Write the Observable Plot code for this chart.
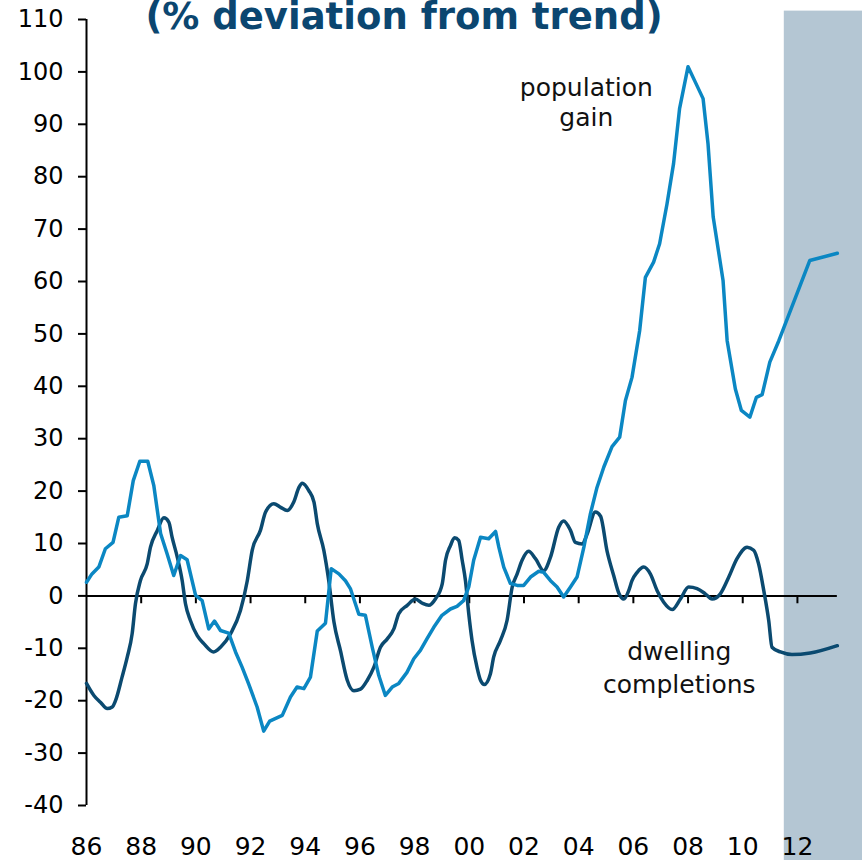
<!DOCTYPE html>
<html><head><meta charset="utf-8">
<script src="https://cdn.jsdelivr.net/npm/d3@7"></script>
<script src="https://cdn.jsdelivr.net/npm/@observablehq/plot@0.6"></script>
<style>
html,body{margin:0;padding:0;background:#fff;overflow:hidden}
#wrap{position:relative;width:862px;height:860px}
#title{position:absolute;left:404px;top:-2px;transform:translateX(-50%);font:bold 37px "DejaVu Sans";line-height:37px;color:#0b4670;white-space:nowrap;z-index:2}
</style></head><body>
<div id="wrap"><div id="title">(% deviation from trend)</div></div>
<script>
const titleText = "(% deviation from trend)";
const popLabel = "population\ngain";
const dwLabel = "dwelling\ncompletions";

const xTicks = [1986,1988,1990,1992,1994,1996,1998,2000,2002,2004,2006,2008,2010,2012];
const xTickLabels = ["86","88","90","92","94","96","98","00","02","04","06","08","10","12"];
const yTicks = [-40,-30,-20,-10,0,10,20,30,40,50,60,70,80,90,100,110];
const yTickLabels = ["-40","-30","-20","-10","0","10","20","30","40","50","60","70","80","90","100","110"];
const forecastPeriod = [2011.52, 2014.38];

const dwYears = [1986.00,1986.27,1986.51,1986.76,1986.94,1987.06,1987.30,1987.49,1987.67,1987.79,1987.97,1988.22,1988.34,1988.59,1988.83,1989.01,1989.13,1989.32,1989.50,1989.62,1989.80,1990.05,1990.29,1990.65,1990.90,1991.27,1991.63,1991.88,1992.06,1992.36,1992.55,1992.85,1993.10,1993.34,1993.58,1993.77,1993.89,1994.13,1994.32,1994.44,1994.68,1994.86,1995.05,1995.29,1995.53,1995.78,1996.02,1996.27,1996.51,1996.75,1997.00,1997.24,1997.42,1997.73,1998.03,1998.28,1998.52,1998.76,1999.01,1999.13,1999.31,1999.46,1999.61,1999.74,1999.86,1999.98,2000.10,2000.28,2000.41,2000.55,2000.77,2000.89,2001.14,2001.38,2001.57,2001.75,2001.93,2002.17,2002.42,2002.72,2002.97,2003.27,2003.45,2003.70,2003.88,2004.13,2004.31,2004.61,2004.80,2005.04,2005.28,2005.47,2005.65,2005.83,2005.95,2006.14,2006.38,2006.62,2006.87,2007.11,2007.42,2007.72,2008.02,2008.33,2008.63,2008.88,2009.18,2009.49,2009.79,2010.16,2010.40,2010.58,2010.77,2010.95,2011.07,2011.38,2011.80,2012.47,2013.46];
const dwValues = [-16.7,-19.0,-20.3,-21.5,-21.2,-20.0,-15.5,-11.7,-7.2,-1.5,2.9,6.1,9.3,12.5,14.9,14.1,11.2,7.4,2.9,-1.5,-4.7,-7.6,-9.1,-10.7,-9.8,-7.2,-2.8,2.9,8.7,12.5,16.0,17.6,16.9,16.3,17.9,20.7,21.5,20.1,17.9,13.8,8.7,2.9,-5.0,-10.5,-16.0,-18.1,-17.8,-16.1,-13.6,-9.8,-8.2,-6.3,-3.4,-1.8,-0.6,-1.4,-1.8,-0.6,2.3,6.8,9.6,11.1,10.6,6.8,2.9,-3.4,-8.5,-13.6,-16.1,-16.9,-14.9,-11.7,-8.5,-4.7,1.7,4.2,6.8,8.5,7.1,4.8,7.4,13.1,14.3,12.5,10.2,9.9,11.8,16.0,15.2,8.5,3.9,0.5,-0.6,1.0,2.9,4.5,5.5,4.2,1.0,-1.2,-2.6,-0.6,1.7,1.4,0.4,-0.6,0.4,3.6,7.1,9.3,8.7,6.1,1.0,-4.7,-9.8,-10.7,-11.2,-10.9,-9.5];

const popYears = [1986.00,1986.20,1986.45,1986.69,1986.97,1987.18,1987.49,1987.71,1987.95,1988.24,1988.46,1988.71,1988.95,1989.19,1989.44,1989.68,1989.99,1990.23,1990.47,1990.68,1990.90,1991.20,1991.45,1991.69,1991.93,1992.24,1992.48,1992.70,1993.16,1993.46,1993.70,1993.95,1994.19,1994.44,1994.74,1994.95,1995.23,1995.47,1995.65,1995.96,1996.20,1996.45,1996.69,1996.93,1997.18,1997.42,1997.72,1997.97,1998.21,1998.45,1998.70,1999.00,1999.31,1999.55,1999.79,1999.98,2000.16,2000.41,2000.71,2000.96,2001.08,2001.26,2001.50,2001.75,2001.99,2002.24,2002.54,2002.72,2002.97,2003.21,2003.45,2003.70,2003.94,2004.19,2004.43,2004.67,2004.92,2005.22,2005.50,2005.71,2005.95,2006.23,2006.44,2006.74,2006.96,2007.23,2007.47,2007.69,2008.00,2008.27,2008.55,2008.73,2008.92,2009.28,2009.43,2009.73,2009.95,2010.26,2010.50,2010.71,2010.99,2011.32,2012.45,2013.46];
const popValues = [2.6,4.2,5.5,9.0,10.2,15.0,15.3,22.0,25.7,25.7,21.1,11.9,8.0,3.9,7.7,6.9,0.1,-0.9,-6.3,-4.8,-6.6,-7.1,-10.7,-13.6,-16.8,-21.2,-25.8,-23.9,-22.8,-19.3,-17.4,-17.7,-15.5,-6.7,-5.2,5.2,4.2,2.9,1.4,-3.5,-3.7,-9.8,-15.2,-19.0,-17.4,-16.7,-14.6,-12.0,-10.4,-8.2,-6.0,-3.7,-2.5,-2.0,-0.9,1.7,6.8,11.2,10.9,12.3,9.3,5.5,2.4,2.0,2.0,3.6,4.7,4.5,2.9,1.7,-0.2,1.7,3.6,9.3,15.7,20.7,24.6,28.5,30.3,37.3,41.7,50.6,60.8,63.7,67.2,74.8,82.5,93.0,101.0,98.0,94.9,86.3,72.3,60.2,48.7,39.5,35.4,34.1,37.9,38.4,44.6,48.7,64.0,65.4];

const dwData = dwYears.map((x, i) => ({x, y: dwValues[i]}));
const popData = popYears.map((x, i) => ({x, y: popValues[i]}));
const lastYear = popYears[popYears.length - 1];

document.getElementById("title").textContent = titleText;

const chart = Plot.plot({
  width: 862, height: 860,
  marginLeft: 86, marginRight: 0, marginTop: 19, marginBottom: 55,
  style: {fontFamily: "DejaVu Sans", color: "#000", background: "#fff"},
  x: {domain: [1986, forecastPeriod[1]], label: null},
  y: {domain: [-40, 110], label: null},
  marks: [
    Plot.rect([{a: forecastPeriod[0], b: forecastPeriod[1]}], {x1: "a", x2: "b", y1: -52, y2: 111.6, fill: "#b4c6d3"}),
    Plot.ruleY([0], {x1: 1986, x2: lastYear, stroke: "#000", strokeWidth: 2}),
    Plot.ruleX(xTicks.slice(1), {y1: 0, y2: -1.5, stroke: "#000", strokeWidth: 2}),
    Plot.ruleX([1986], {y1: -40, y2: 110, stroke: "#000", strokeWidth: 2}),
    Plot.axisY({ticks: yTicks, tickFormat: d => yTickLabels[yTicks.indexOf(d)], tickSize: 8, tickPadding: 15, fontSize: 24, strokeWidth: 2, label: null}),
    Plot.axisX({ticks: xTicks, tickFormat: d => xTickLabels[xTicks.indexOf(d)], tickSize: 0, tickPadding: 32, fontSize: 25, label: null}),
    Plot.line(dwData, {x: "x", y: "y", stroke: "#0b4a70", strokeWidth: 3.5, curve: "monotone-x", strokeLinejoin: "round"}),
    Plot.line(popData, {x: "x", y: "y", stroke: "#0b87c3", strokeWidth: 3.5, curve: "linear", strokeLinejoin: "round"}),
    Plot.text([popLabel], {x: 2004.28, y: 99.4, text: d => d, lineAnchor: "top", lineHeight: 1.2, fontSize: 25, fill: "#111", textAnchor: "middle"}),
    Plot.text([dwLabel], {x: 2007.68, y: -7.9, text: d => d, lineAnchor: "top", lineHeight: 1.3, fontSize: 25, fill: "#111", textAnchor: "middle"})
  ]
});
document.getElementById("wrap").appendChild(chart);
</script></body></html>
